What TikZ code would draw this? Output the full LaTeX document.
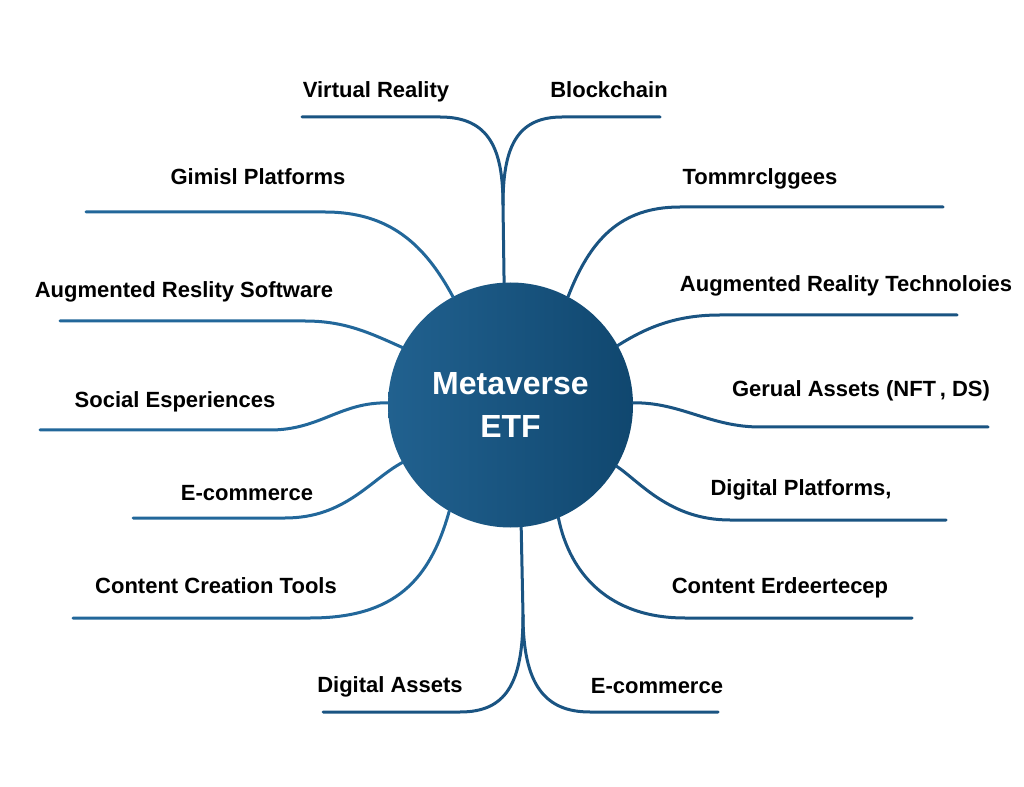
\documentclass[tikz,border=0pt]{standalone}
\usepackage{fontspec}
\setmainfont{Liberation Sans}
\definecolor{linecolL}{HTML}{22679A}
\definecolor{linecolR}{HTML}{1A5482}
\definecolor{hubL}{HTML}{21618F}
\definecolor{hubR}{HTML}{10476F}
\begin{document}
\begin{tikzpicture}[x=0.75pt,y=-0.75pt,
  lbl/.style={anchor=base,font=\fontsize{16.5pt}{19pt}\selectfont\bfseries,text=black,inner sep=0pt},
  branch/.style={draw=linecolR,line width=2.25pt,line cap=round},
  branchL/.style={branch,draw=linecolL},
  hub/.style={circle,minimum size=183.75pt,inner sep=0pt,outer sep=0pt,left color=hubL,right color=hubR,
    text=white,align=center,font=\fontsize{24pt}{32pt}\selectfont\bfseries}]
\useasboundingbox[fill=white] (0,0) rectangle (1024,787);

\node[hub] (c) at (510.5,405) {Metaverse\\ETF};

% labels
\node[lbl] (t1) at (376,98) {Virtual Reality};
\node[lbl] (t2) at (609,98) {Blockchain};
\node[lbl] (t3) at (258,185) {Gimisl Platforms};
\node[lbl] (t4) at (184,298) {Augmented Reslity Software};
\node[lbl] (t5) at (175,408) {Social Esperiences};
\node[lbl] (t6) at (247,500) {E-commerce};
\node[lbl] (t7) at (216,593) {Content Creation Tools};
\node[lbl] (t8) at (390,692) {Digital Assets};
\node[lbl] (t9) at (657,693) {E-commerce};
\node[lbl] (t10) at (760,185) {Tommrclggees};
\node[lbl] (t11) at (846,292) {Augmented Reality Technoloies};
\node[lbl] (t12) at (861,397) {Gerual Assets (NFT\,, DS)};
\node[lbl] (t13) at (801,495) {Digital Platforms,};
\node[lbl] (t14) at (780,593) {Content Erdeertecep};

% underline ends
\coordinate (j1) at (503,205);
\coordinate (e1) at (302,117);
\coordinate (e2) at (660,117);
\coordinate (e3) at (86,212);
\coordinate (e4) at (60,321);
\coordinate (e5) at (40,430);
\coordinate (e6) at (133,518);
\coordinate (e7) at (73,618);
\coordinate (j2) at (523,615);
\coordinate (e8) at (323,712);
\coordinate (e9) at (718,712);
\coordinate (e10) at (943,207);
\coordinate (e11) at (957,315);
\coordinate (e12) at (988,427);
\coordinate (e13) at (946,520);
\coordinate (e14) at (912,618);

% connectors
\draw[branch] (c.93.5) -- (j1);
\draw[branch] (j1) .. controls (503,150) and (490,117) .. (440,117) -- (e1);
\draw[branch] (j1) .. controls (503,150) and (515,117) .. (562,117) -- (e2);
\draw[branchL] (c.118.4) .. controls (425,245) and (390,212) .. (325,212) -- (e3);
\draw[branchL] (c.152.7) .. controls (370,333) and (345,321) .. (305,321) -- (e4);
\draw[branchL] (c.179.5) .. controls (340,402) and (320,430) .. (270,430) -- (e5);
\draw[branchL] (c.208) .. controls (370,480) and (345,518) .. (285,518) -- (e6);
\draw[branchL] (c.240.5) .. controls (430,580) and (395,618) .. (310,618) -- (e7);
\draw[branch] (c.275.4) -- (j2);
\draw[branch] (j2) .. controls (523,685) and (505,712) .. (460,712) -- (e8);
\draw[branch] (j2) .. controls (523,685) and (545,712) .. (590,712) -- (e9);
\draw[branch] (c.62.2) .. controls (590,240) and (620,207) .. (680,207) -- (e10);
\draw[branch] (c.29.5) .. controls (650,325) and (680,315) .. (720,315) -- (e11);
\draw[branch] (c.1.4) .. controls (680,402) and (710,427) .. (760,427) -- (e12);
\draw[branch] (c.330.8) .. controls (640,482) and (670,520) .. (730,520) -- (e13);
\draw[branch] (c.293.8) .. controls (570,575) and (610,618) .. (685,618) -- (e14);
\end{tikzpicture}
\end{document}
